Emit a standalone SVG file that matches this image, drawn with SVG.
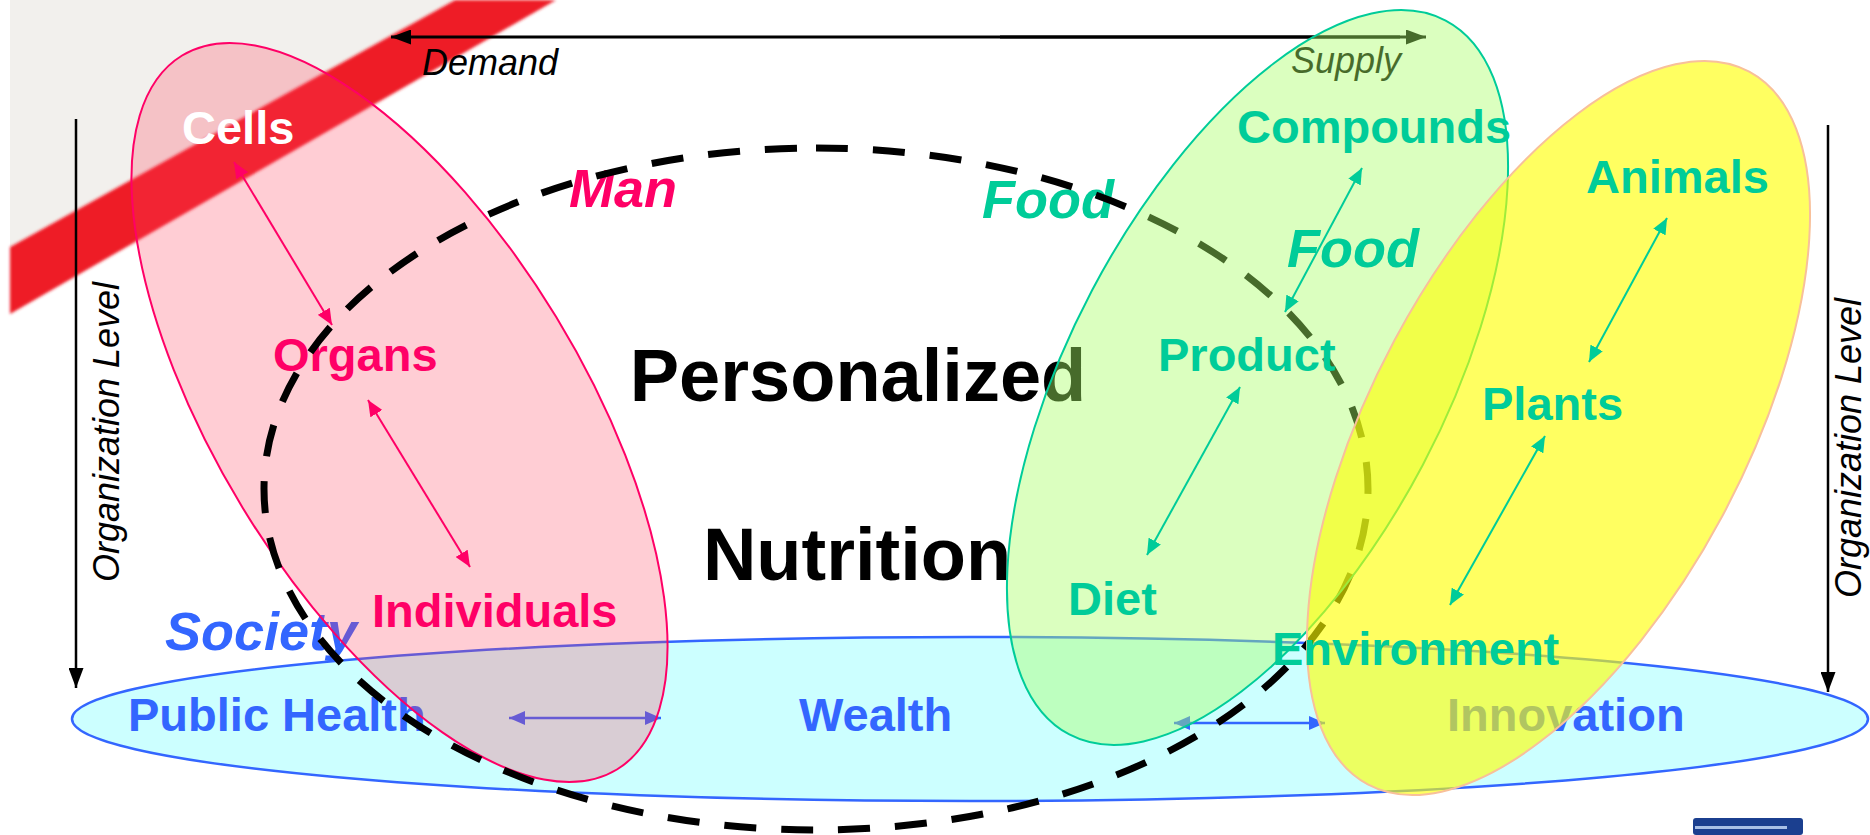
<svg xmlns="http://www.w3.org/2000/svg" width="1870" height="835" viewBox="0 0 1870 835">
<defs>
<style>
.lbl{font-family:"Liberation Sans",Arial,sans-serif;font-weight:bold;font-size:47px}
.pk{fill:#ff0066}
.gr{fill:#00cc99}
.bl{fill:#3366ff}
.ital{font-family:"Liberation Sans",Arial,sans-serif;font-style:italic;font-weight:bold;font-size:54px}
.thin{font-family:"Liberation Sans",Arial,sans-serif;font-style:italic;font-size:36px;fill:#000}
.big{font-family:"Liberation Sans",Arial,sans-serif;font-weight:bold;font-size:74px;fill:#000}
.apk{stroke:#ff0066;stroke-width:2;fill:none;marker-start:url(#hpk);marker-end:url(#hpk)}
.agr{stroke:#00cc99;stroke-width:2;fill:none;marker-start:url(#hgr);marker-end:url(#hgr)}
.abl{stroke:#3366ff;stroke-width:2.5;fill:none;marker-start:url(#hbl);marker-end:url(#hbl)}
.ablk{stroke:#000;stroke-width:2.5;fill:none;marker-end:url(#hblk)}
</style>
<marker id="hpk" markerUnits="userSpaceOnUse" markerWidth="16" markerHeight="14" refX="16" refY="7" orient="auto-start-reverse"><path d="M0,0 L16,7 L0,14 z" fill="#ff0066"/></marker>
<marker id="hgr" markerUnits="userSpaceOnUse" markerWidth="16" markerHeight="14" refX="16" refY="7" orient="auto-start-reverse"><path d="M0,0 L16,7 L0,14 z" fill="#00cc99"/></marker>
<marker id="hbl" markerUnits="userSpaceOnUse" markerWidth="16" markerHeight="14" refX="16" refY="7" orient="auto-start-reverse"><path d="M0,0 L16,7 L0,14 z" fill="#3366ff"/></marker>
<marker id="hblk" markerUnits="userSpaceOnUse" markerWidth="20" markerHeight="15" refX="20" refY="7.5" orient="auto-start-reverse"><path d="M0,0 L20,7.5 L0,15 z" fill="#000"/></marker>
<filter id="soft" x="-5%" y="-5%" width="110%" height="110%"><feGaussianBlur stdDeviation="1.5"/></filter>
</defs>
<rect width="1870" height="835" fill="#fff"/>
<g id="background">
<polygon points="10,0 455,0 10,247" fill="#f2f0ed"/>
<polygon points="455,0 556,0 10,314 10,247" fill="#ee1c25" filter="url(#soft)"/>
</g>
<g id="connectors">
<line class="ablk" x1="1400" y1="37" x2="391" y2="37" style="stroke-width:3"/>
<line class="ablk" x1="1000" y1="37" x2="1426" y2="37" style="stroke-width:3"/>
</g>
<g id="demand"><text class="thin" x="422" y="75">Demand</text></g>
<g id="supply"><text class="thin" x="1291" y="73">Supply</text></g>
<g id="society">
<ellipse cx="970" cy="719" rx="898" ry="82" fill="#ccffff" stroke="#3366ff" stroke-width="2.5"/>
<text class="ital bl" x="165" y="650">Society</text>
<text class="lbl bl" x="128" y="731">Public Health</text>
<text class="lbl bl" x="799" y="731">Wealth</text>
<text class="lbl bl" x="1447" y="731">Innovation</text>
<line class="abl" x1="509" y1="718" x2="661" y2="718"/>
<line class="abl" x1="1174" y1="723" x2="1325" y2="723"/>
</g>
<g id="man">
<ellipse cx="399.5" cy="412.5" rx="418" ry="183.5" transform="rotate(58.66 399.5 412.5)" fill="#ff3c5a" fill-opacity="0.26" stroke="#ff0066" stroke-width="2"/>
<text class="lbl" x="182" y="144" fill="#fff">Cells</text>
<text class="lbl pk" x="273" y="371">Organs</text>
<text class="lbl pk" x="372" y="627">Individuals</text>
<line class="apk" x1="234" y1="162" x2="332" y2="325"/>
<line class="apk" x1="368" y1="400" x2="470" y2="567"/>
<text class="ital pk" x="569" y="207">Man</text>
</g>
<g id="title">
<text class="big" x="858" y="401" text-anchor="middle">Personalized</text>
<text class="big" x="857" y="580" text-anchor="middle">Nutrition</text>
</g>
<g id="food-label"><text class="ital gr" x="982" y="218">Food</text></g>
<g id="personalized-boundary">
<path d="M816,148 A552,341 0 0,1 816,830 A552,341 0 0,1 816,148" fill="none" stroke="#000" stroke-width="7" stroke-dasharray="32 25"/>
</g>
<g id="food">
<ellipse cx="1257.5" cy="377.5" rx="403.5" ry="187" transform="rotate(-62.2 1257.5 377.5)" fill="#aaff66" fill-opacity="0.42" stroke="#00cc99" stroke-width="2"/>
</g>
<g id="sources">
<ellipse cx="1558.5" cy="428" rx="404.2" ry="186" transform="rotate(-61.85 1558.5 428)" fill="#ffff00" fill-opacity="0.62" stroke="#f8c09a" stroke-width="2"/>
</g>
<g id="food-nodes">
<text class="lbl gr" x="1237" y="143">Compounds</text>
<text class="ital gr" x="1287" y="267">Food</text>
<text class="lbl gr" x="1158" y="371">Product</text>
<text class="lbl gr" x="1068" y="615">Diet</text>
<text class="lbl gr" x="1586" y="193">Animals</text>
<text class="lbl gr" x="1482" y="420">Plants</text>
<text class="lbl gr" x="1272" y="665">Environment</text>
<line class="agr" x1="1362" y1="168" x2="1285" y2="312"/>
<line class="agr" x1="1240" y1="387" x2="1147" y2="555"/>
<line class="agr" x1="1667" y1="218" x2="1589" y2="362"/>
<line class="agr" x1="1545" y1="436" x2="1450" y2="605"/>
</g>
<g id="org-left">
<line class="ablk" x1="76" y1="119" x2="76" y2="688"/>
<text class="thin" transform="translate(119 432) rotate(-90)" text-anchor="middle">Organization Level</text>
</g>
<g id="org-right">
<line class="ablk" x1="1828" y1="125" x2="1828" y2="692"/>
<text class="thin" transform="translate(1861 448) rotate(-90)" text-anchor="middle">Organization Level</text>
</g>
<g id="logo">
<rect x="1693" y="818" width="110" height="17" rx="3" fill="#1b3f8f"/>
<rect x="1695" y="826" width="92" height="3" fill="#a9c0e6"/>
</g>
</svg>
